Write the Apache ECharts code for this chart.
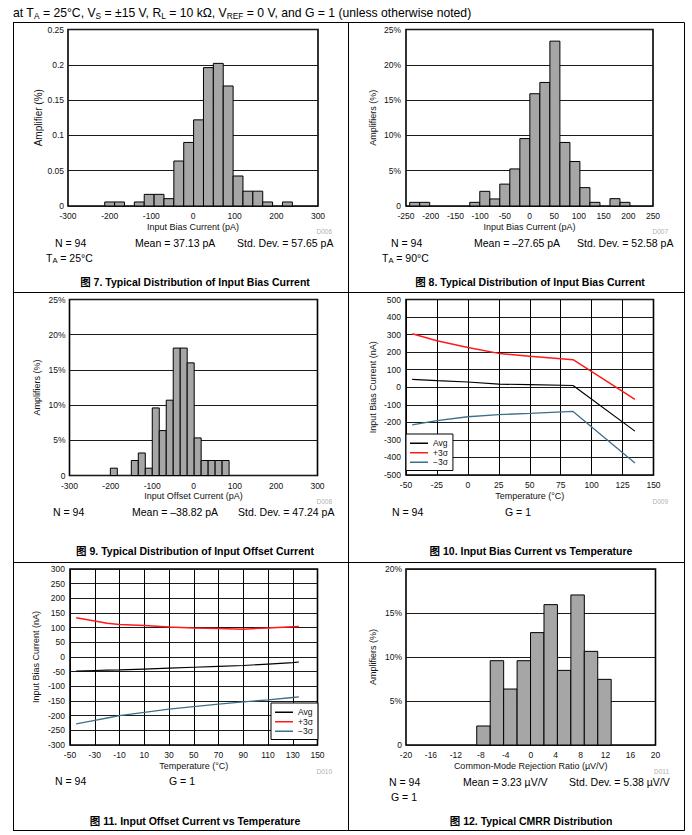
<!DOCTYPE html>
<html><head><meta charset="utf-8">
<script src="https://cdn.jsdelivr.net/npm/echarts@6/dist/echarts.min.js"></script>
<style>html,body{margin:0;padding:0;background:#fff}#c{width:692px;height:835px}</style>
</head><body><div id="c"></div>
<script>
// ---------------- DATA ----------------
// Fig 7: Input bias current distribution, TA = 25°C (fraction)
const fig7Centers = [-200, -176.3, -152.6, -128.9, -105.2, -81.5, -57.8, -34.1, -10.4, 13.3, 37, 60.7, 84.4, 108.1, 131.8, 155.5, 179.2, 202.9, 226.6];
const fig7Values  = [0.0057, 0.0057, 0, 0.0057, 0.0165, 0.0165, 0.0104, 0.0637, 0.090, 0.122, 0.196, 0.202, 0.170, 0.0425, 0.021, 0.021, 0.0057, 0, 0.0057];
const fig7BinWidth = 23.7;
// Fig 8: Input bias current distribution, TA = 90°C (%)
const fig8Centers = [-232.4, -212.1, -191.9, -171.6, -151.3, -131.1, -110.8, -90.5, -70.2, -50, -29.7, -9.4, 10.8, 31.1, 51.4, 71.7, 91.9, 112.2, 132.5, 152.7, 173, 193.3];
const fig8Values  = [0.52, 0.52, 0, 0, 0, 0, 0.52, 2.08, 1.0, 3.1, 5.25, 9.55, 15.9, 17.5, 23.35, 9.0, 6.3, 2.6, 0.52, 0, 1.04, 0.52];
const fig8BinWidth = 20.27;
// Fig 9: Input offset current distribution (%)
const fig9Centers = [-192.7, -175.8, -158.9, -142, -125.1, -108.2, -91.3, -74.4, -57.5, -40.6, -23.7, -6.8, 10.1, 27, 43.9, 60.8, 77.7];
const fig9Values  = [1.04, 0, 0, 2.13, 3.2, 1.04, 9.6, 6.38, 10.7, 18.1, 18.1, 16.0, 5.34, 2.13, 2.13, 2.13, 2.13];
const fig9BinWidth = 16.9;
// Fig 10: Input bias current vs temperature
const fig10Temp   = [-45, -25, 0, 25, 50, 85, 135];
const fig10Avg    = [45, 38, 30, 18, 15, 10, -250];
const fig10Plus3  = [305, 265, 227, 193, 177, 157, -69];
const fig10Minus3 = [-215, -190, -168, -156, -149, -138, -432];
// Fig 11: Input offset current vs temperature
const fig11Temp   = [-45, -30, -20, -10, 10, 30, 50, 70, 90, 110, 130, 135];
const fig11Avg    = [-48, -46, -45, -44, -41, -38, -35, -32, -29, -24, -19, -17];
const fig11Plus3  = [134, 123, 115, 111, 107, 102, 99, 97, 95, 99, 103, 104];
const fig11Minus3 = [-228, -216, -208, -200, -189, -178, -169, -161, -153, -146, -138, -136];
// Fig 12: CMRR distribution (%)
const fig12Centers = [-7.58, -5.42, -3.27, -1.11, 1.04, 3.2, 5.35, 7.51, 9.66, 11.82];
const fig12Values  = [2.16, 9.58, 6.36, 9.58, 12.77, 15.95, 8.48, 17.05, 10.64, 7.46];
const fig12BinWidth = 2.155;
const seriesNames = ['Avg', '+3σ', '−3σ'];

// ---------------- OPTION ----------------
const FONT = "'Liberation Sans', Arial, 'Noto Sans CJK SC', sans-serif";
const BAR_FILL = '#a6a6a6';
const RED = '#ff1a1a', BLUE = '#3f6f88';

function histSeries(idx, centers, values, width) {
  return {
    type: 'custom', xAxisIndex: idx, yAxisIndex: idx,
    dimensions: ['x', 'y', 'w'], encode: { x: 0, y: 1 },
    data: centers.map((c, i) => [c, values[i], width]),
    renderItem: function (params, api) {
      const c = api.value(0), v = api.value(1), w = api.value(2);
      if (!v) return null;
      const p0 = api.coord([c - w / 2, v]);
      const p1 = api.coord([c + w / 2, 0]);
      return { type: 'rect', shape: { x: p0[0], y: p0[1], width: p1[0] - p0[0], height: p1[1] - p0[1] },
        style: { fill: BAR_FILL, stroke: '#000', lineWidth: 1 } };
    }
  };
}
function lineSeries(idx, name, xs, ys, color, w) {
  return { type: 'line', name, xAxisIndex: idx, yAxisIndex: idx, symbol: 'none', smooth: false,
    data: xs.map((x, i) => [x, ys[i]]), lineStyle: { color, width: w }, itemStyle: { color } };
}
const labelStyle = { fontSize: 8.5, color: '#111', fontFamily: FONT };
const nameStyle = { fontSize: 9, color: '#111', fontFamily: FONT };
function xAx(idx, min, max, interval, name, split) {
  return { gridIndex: idx, type: 'value', min, max, interval,
    axisLine: { show: false }, axisTick: { show: false },
    splitLine: { show: !!split, lineStyle: { color: '#000', width: 1 } },
    axisLabel: Object.assign({ margin: 6, showMinLabel: true, showMaxLabel: true }, labelStyle),
    name, nameLocation: 'middle', nameGap: 16, nameTextStyle: nameStyle };
}
function yAx(idx, min, max, interval, name, gap, margin, fmt, nameSize) {
  return { gridIndex: idx, type: 'value', min, max, interval,
    axisLine: { show: false }, axisTick: { show: false },
    splitLine: { show: true, lineStyle: { color: '#1a1a1a', width: 1 } },
    axisLabel: Object.assign({ margin, showMinLabel: true, showMaxLabel: true, formatter: fmt }, labelStyle),
    name, nameLocation: 'middle', nameGap: gap,
    nameTextStyle: Object.assign({}, nameStyle, nameSize ? { fontSize: nameSize } : {}) };
}
const pct = v => (v === 0 ? '0' : v + '%');
const gridBase = { show: true, borderColor: '#000', borderWidth: 1.6, backgroundColor: 'transparent', containLabel: false, outerBoundsMode: 'none' };

function txt(x, y, text, o, subSize, subPad) {
  return { type: 'text', x, y, silent: true, z: 10,
    style: Object.assign({ text, fill: '#000', fontSize: 10.5, fontFamily: FONT, align: 'left', verticalAlign: 'middle',
      rich: { s: { fontSize: subSize || 7.5, fontFamily: FONT, padding: [subPad || 5, 0, 0, 0] } } }, o || {}) };
}
function cap(x, y, text) { return txt(x, y, text, { align: 'center', fontWeight: 'bold', fontSize: 10.5 }); }
function code(x, y, text) { return txt(x, y, text, { align: 'right', fontSize: 6.5, fill: '#b0b0b0' }); }
function hl(x1, y1, x2, y2) { return { type: 'line', silent: true, shape: { x1, y1, x2, y2 }, style: { stroke: '#000', lineWidth: 1 } }; }

const legendBase = { orient: 'vertical', data: seriesNames, icon: 'rect', itemWidth: 18, itemHeight: 1.5, itemGap: 1,
  backgroundColor: '#fff', borderColor: '#000', borderWidth: 1, padding: [5, 5, 4, 4], borderRadius: 0,
  textStyle: { fontSize: 8.5, color: '#111', fontFamily: FONT, padding: [0, 0, 0, 0] }, selectedMode: false };

const option = {
  animation: false,
  textStyle: { fontFamily: FONT },
  grid: [
    Object.assign({ left: 68, top: 29.5, width: 250, height: 176.5 }, gridBase),
    Object.assign({ left: 406, top: 29.5, width: 247, height: 176.5 }, gridBase),
    Object.assign({ left: 69.5, top: 299.5, width: 248, height: 176 }, gridBase),
    Object.assign({ left: 406, top: 299.5, width: 247.5, height: 175.5 }, gridBase),
    Object.assign({ left: 70, top: 569, width: 247.5, height: 176 }, gridBase),
    Object.assign({ left: 406, top: 569, width: 249.5, height: 176 }, gridBase)
  ],
  xAxis: [
    xAx(0, -300, 300, 100, 'Input Bias Current (pA)'),
    xAx(1, -250, 250, 50, 'Input Bias Current (pA)'),
    xAx(2, -300, 300, 100, 'Input Offset Current (pA)'),
    xAx(3, -50, 150, 25, 'Temperature (°C)', true),
    xAx(4, -50, 150, 20, 'Temperature (°C)', true),
    xAx(5, -20, 20, 4, 'Common-Mode Rejection Ratio (µV/V)')
  ],
  yAxis: [
    yAx(0, 0, 0.25, 0.05, 'Amplifier (%)', 25, 4, undefined, 10),
    yAx(1, 0, 25, 5, 'Amplifiers (%)', 29, 5, pct),
    yAx(2, 0, 25, 5, 'Amplifiers (%)', 28, 4, pct),
    yAx(3, -500, 500, 100, 'Input Bias Current (nA)', 29, 5),
    yAx(4, -300, 300, 50, 'Input Bias Current (nA)', 30, 5),
    yAx(5, 0, 20, 5, 'Amplifiers (%)', 29, 4, pct)
  ],
  legend: [
    Object.assign({ left: 406, top: 434 }, legendBase),
    Object.assign({ left: 271, top: 703 }, legendBase)
  ],
  series: [
    histSeries(0, fig7Centers, fig7Values, fig7BinWidth),
    histSeries(1, fig8Centers, fig8Values, fig8BinWidth),
    histSeries(2, fig9Centers, fig9Values, fig9BinWidth),
    lineSeries(3, seriesNames[0], fig10Temp, fig10Avg, '#000', 1.2),
    lineSeries(3, seriesNames[1], fig10Temp, fig10Plus3, RED, 1.5),
    lineSeries(3, seriesNames[2], fig10Temp, fig10Minus3, BLUE, 1.3),
    lineSeries(4, seriesNames[0], fig11Temp, fig11Avg, '#000', 1.2),
    lineSeries(4, seriesNames[1], fig11Temp, fig11Plus3, RED, 1.5),
    lineSeries(4, seriesNames[2], fig11Temp, fig11Minus3, BLUE, 1.3),
    histSeries(5, fig12Centers, fig12Values, fig12BinWidth)
  ],
  graphic: [
    // frame
    hl(13, 22.5, 684.5, 22.5), hl(13, 292.5, 684.5, 292.5), hl(13, 562.5, 684.5, 562.5), hl(13, 830.5, 684.5, 830.5),
    hl(13.5, 22.5, 13.5, 830.5), hl(348.5, 22.5, 348.5, 830.5), hl(684.5, 22.5, 684.5, 830.5),
    // header
    txt(13, 13, 'at T{s|A} = 25°C, V{s|S} = ±15 V, R{s|L} = 10 kΩ, V{s|REF} = 0 V, and G = 1 (unless otherwise noted)', { fontSize: 12.2 }, 8.3, 5.5),
    // fig 7
    code(332, 231, 'D006'),
    txt(55, 243, 'N = 94'), txt(135, 243, 'Mean = 37.13 pA'), txt(237, 243, 'Std. Dev. = 57.65 pA'),
    txt(46, 258, 'T{s|A} = 25°C'),
    cap(195, 282, '图 7. Typical Distribution of Input Bias Current'),
    // fig 8
    code(668, 231, 'D007'),
    txt(391, 243, 'N = 94'), txt(474, 243, 'Mean = –27.65 pA'), txt(577, 243, 'Std. Dev. = 52.58 pA'),
    txt(382, 258, 'T{s|A} = 90°C'),
    cap(530, 282, '图 8. Typical Distribution of Input Bias Current'),
    // fig 9
    code(332, 501, 'D008'),
    txt(53, 512, 'N = 94'), txt(132, 512, 'Mean = –38.82 pA'), txt(238, 512, 'Std. Dev. = 47.24 pA'),
    cap(195, 551, '图 9. Typical Distribution of Input Offset Current'),
    // fig 10
    code(668, 501, 'D009'),
    txt(392, 512, 'N = 94'), txt(505, 512, 'G = 1'),
    cap(531, 551, '图 10. Input Bias Current vs Temperature'),
    // fig 11
    code(332, 771, 'D010'),
    txt(55, 781, 'N = 94'), txt(169, 781, 'G = 1'),
    cap(195, 821, '图 11. Input Offset Current vs Temperature'),
    // fig 12
    code(669, 771, 'D011'),
    txt(389, 782, 'N = 94'), txt(463, 782, 'Mean = 3.23 µV/V'), txt(569, 782, 'Std. Dev. = 5.38 µV/V'),
    txt(391, 797, 'G = 1'),
    cap(531, 821, '图 12. Typical CMRR Distribution')
  ]
};
const chart = echarts.init(document.getElementById('c'), null, { renderer: 'svg' });
chart.setOption(option);
</script></body></html>
